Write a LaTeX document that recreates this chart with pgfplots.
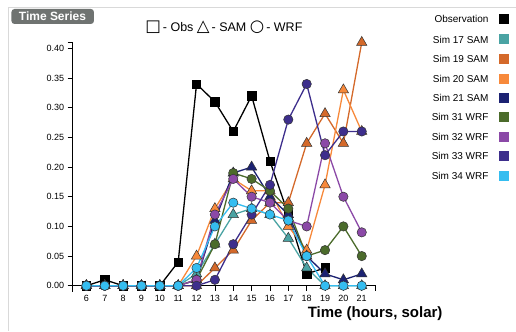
\documentclass[border=0pt]{standalone}
\usepackage{pgfplots}
\pgfplotsset{compat=1.18}
\usepackage{pgfplotstable}
\usepackage{fontspec}
\setmainfont{Liberation Sans}
\newfontfamily\symfont{DejaVu Sans}
\definecolor{cObs}{HTML}{000000}
\definecolor{cSeventeen}{HTML}{4AA3A3}
\definecolor{cNineteen}{HTML}{D4692A}
\definecolor{cTwenty}{HTML}{F7893B}
\definecolor{cTwentyOne}{HTML}{1C2272}
\definecolor{cThirtyOne}{HTML}{4B6B2B}
\definecolor{cThirtyTwo}{HTML}{8B49A7}
\definecolor{cThirtyThree}{HTML}{3D2E8C}
\definecolor{cThirtyFour}{HTML}{35BDF0}
\definecolor{tagGray}{HTML}{6F7371}
\pgfplotstableread{
h  obs   s17   s19   s20   s21   w31   w32   w33   w34
6  0.00  0.00  0.00  0.00  0.00  0.00  0.00  0.00  0.00
7  0.01  0.00  0.00  0.00  0.00  0.00  0.00  0.00  0.00
8  0.00  0.00  0.00  0.00  0.00  0.00  0.00  0.00  0.00
9  0.00  0.00  0.00  0.00  0.00  0.00  0.00  0.00  0.00
10 0.00  0.00  0.00  0.00  0.00  0.00  0.00  0.00  0.00
11 0.04  0.00  0.00  0.00  0.00  0.00  0.00  0.00  0.00
12 0.34  0.02  0.00  0.05  0.01  0.01  0.01  0.00  0.03
13 0.31  0.07  0.03  0.13  0.11  0.07  0.12  0.01  0.10
14 0.26  0.12  0.06  0.18  0.19  0.19  0.18  0.07  0.14
15 0.32  0.13  0.11  0.16  0.20  0.18  0.15  0.12  0.13
16 0.21  0.12  0.14  0.16  0.15  0.16  0.14  0.17  0.12
17 0.12  0.08  0.14  0.10  0.12  0.13  0.11  0.28  0.11
18 0.02  0.03  0.24  0.06  0.05  0.05  0.10  0.34  0.05
19 0.03  0.00  0.29  0.17  0.02  0.06  0.24  0.22  0.00
20 nan   0.00  0.24  0.33  0.01  0.10  0.15  0.26  0.00
21 nan   0.00  0.41  0.26  0.02  0.05  0.09  0.26  0.00
}\datatable
\begin{document}
\begin{tikzpicture}
\path (0,0) rectangle (516bp,331bp);
% frame
\draw[black!15, line width=0.8bp] (8.5bp,0bp) -- (8.5bp,324bp) -- (516bp,324bp);
% tag
\fill[tagGray, rounded corners=3bp] (11.5bp,307bp) rectangle (94bp,322bp);
\node[text=white, font=\fontsize{12bp}{12bp}\selectfont\bfseries] at (52.5bp,314.5bp) {Time Series};
% top legend
\node[font=\fontsize{12.5bp}{14bp}\selectfont, inner sep=0pt] at (224bp,303.5bp) {{\symfont\fontsize{16.5bp}{16bp}\selectfont □}\,- Obs {\symfont\fontsize{16.5bp}{16bp}\selectfont △}\,- SAM {\symfont\fontsize{16.5bp}{16bp}\selectfont ○}\,- WRF};
% right legend
\foreach \yy/\nm/\cc in {19/Observation/cObs, 39.5/Sim 17 SAM/cSeventeen, 59/Sim 19 SAM/cNineteen, 79/Sim 20 SAM/cTwenty, 98/Sim 21 SAM/cTwentyOne, 117.5/Sim 31 WRF/cThirtyOne, 137/Sim 32 WRF/cThirtyTwo, 156/Sim 33 WRF/cThirtyThree, 176/Sim 34 WRF/cThirtyFour}{
  \node[anchor=east, inner sep=0pt, font=\fontsize{10bp}{11bp}\selectfont] at (489bp,{(331-\yy)*1bp}) {\nm};
  \fill[\cc] (499.5bp,{(331-\yy-5)*1bp}) rectangle (509.5bp,{(331-\yy+5)*1bp});
}
% x label
\node[anchor=east, inner sep=0pt, font=\fontsize{15bp}{16bp}\selectfont\bfseries] at (443bp,17.5bp) {Time (hours, solar)};
\begin{axis}[
  at={(72.7bp,39.1bp)}, anchor=south west,
  scale only axis, width=303.1bp, height=249.4bp,
  xmin=5.25, xmax=21.75, ymin=-0.01, ymax=0.41,
  axis x line=middle, axis y line=left,
  axis line style={-, line width=0.9bp},
  tick style={line width=0.8bp, black},
  tick align=outside, major tick length=5bp,
  xtick={6,...,21}, ytick={0,0.05,...,0.401},
  extra x ticks={5.25,21.75}, extra x tick labels={},
  extra y ticks={0.41}, extra y tick labels={},
  tick label style={font=\fontsize{9bp}{10bp}\selectfont},
  /pgf/number format/assume math mode=true,
  yticklabel style={/pgf/number format/.cd, fixed, fixed zerofill, precision=2},
  xticklabel style={yshift=-1bp},
  clip=false, enlargelimits=false,
  every axis plot/.append style={line width=1.3bp},
]
\addplot[cObs, mark=square*, mark size=4.2bp, mark options={draw=black, fill=cObs, line width=0.5bp}] table[x=h, y=obs] {\datatable};
\addplot[cSeventeen, mark=triangle*, mark size=6bp, mark options={draw=black!80, fill=cSeventeen, line width=0.5bp}] table[x=h, y=s17] {\datatable};
\addplot[cNineteen, mark=triangle*, mark size=6bp, mark options={draw=black!80, fill=cNineteen, line width=0.5bp}] table[x=h, y=s19] {\datatable};
\addplot[cTwenty, mark=triangle*, mark size=6bp, mark options={draw=black!80, fill=cTwenty, line width=0.5bp}] table[x=h, y=s20] {\datatable};
\addplot[cTwentyOne, mark=triangle*, mark size=6bp, mark options={draw=black!80, fill=cTwentyOne, line width=0.5bp}] table[x=h, y=s21] {\datatable};
\addplot[cThirtyOne, mark=*, mark size=4.7bp, mark options={draw=black!80, fill=cThirtyOne, line width=0.5bp}] table[x=h, y=w31] {\datatable};
\addplot[cThirtyTwo, mark=*, mark size=4.7bp, mark options={draw=black!80, fill=cThirtyTwo, line width=0.5bp}] table[x=h, y=w32] {\datatable};
\addplot[cThirtyThree, mark=*, mark size=4.7bp, mark options={draw=black!80, fill=cThirtyThree, line width=0.5bp}] table[x=h, y=w33] {\datatable};
\addplot[cThirtyFour, mark=*, mark size=4.7bp, mark options={draw=black!80, fill=cThirtyFour, line width=0.5bp}] table[x=h, y=w34] {\datatable};
\end{axis}
\end{tikzpicture}
\end{document}
